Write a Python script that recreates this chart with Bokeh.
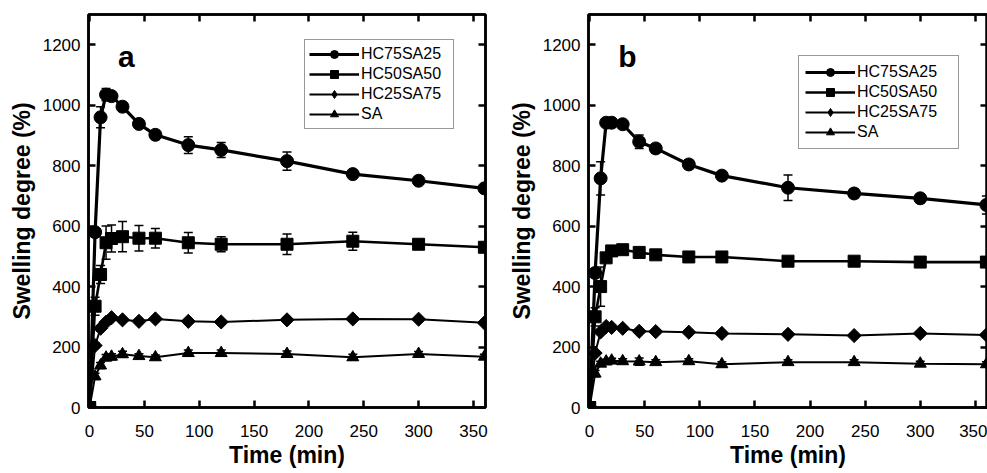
import math
from bokeh.plotting import figure
from bokeh.models import (Range1d, LinearAxis, FixedTicker, Whisker, TeeHead,
                          ColumnDataSource, Legend, LegendItem, Label)
from bokeh.layouts import row
from bokeh.embed import file_html
from bokeh.resources import INLINE

# ---------------- data ----------------
time_min = [0, 5, 10, 15, 20, 30, 45, 60, 90, 120, 180, 240, 300, 360]
series_names = ["HC75SA25", "HC50SA50", "HC25SA75", "SA"]

# panel a
a_hc75 = [0, 580, 960, 1035, 1030, 995, 938, 902, 868, 852, 815, 772, 750, 725]
a_hc75_err = [0, 15, 35, 20, 10, 10, 10, 10, 28, 25, 30, 8, 8, 8]
a_hc50 = [0, 335, 440, 545, 559, 565, 560, 560, 545, 540, 540, 550, 540, 530]
a_hc50_err = [0, 30, 30, 55, 45, 50, 42, 32, 34, 25, 34, 30, 12, 10]
a_hc25 = [0, 205, 262, 282, 297, 290, 285, 293, 285, 283, 290, 293, 292, 280]
a_hc25_err = [0, 8, 8, 6, 6, 6, 6, 6, 6, 6, 6, 6, 6, 6]
a_sa = [0, 103, 139, 165, 168, 176, 170, 166, 180, 180, 177, 166, 177, 168]
a_sa_err = [0, 10, 10, 10, 10, 10, 8, 8, 10, 10, 10, 10, 8, 8]

# panel b
b_hc75 = [0, 445, 758, 942, 942, 937, 879, 857, 804, 767, 727, 708, 692, 670]
b_hc75_err = [0, 15, 55, 10, 8, 8, 22, 15, 15, 12, 42, 15, 15, 30]
b_hc50 = [0, 300, 400, 495, 518, 522, 513, 505, 498, 498, 484, 484, 481, 481]
b_hc50_err = [0, 30, 65, 15, 10, 10, 10, 10, 10, 10, 10, 10, 10, 10]
b_hc25 = [0, 180, 250, 268, 265, 262, 252, 251, 249, 245, 242, 238, 245, 240]
b_hc25_err = [0, 8, 8, 6, 6, 6, 6, 6, 6, 6, 6, 6, 6, 6]
b_sa = [0, 112, 145, 152, 155, 153, 152, 150, 153, 143, 150, 150, 145, 143]
b_sa_err = [0, 10, 8, 8, 8, 8, 12, 8, 8, 8, 8, 8, 8, 8]

x_ticks = [0, 50, 100, 150, 200, 250, 300, 350]
y_ticks = [0, 200, 400, 600, 800, 1000, 1200]
x_label = "Time (min)"
y_label = "Swelling degree (%)"

# ---------------- style ----------------
FONT = "Liberation Sans"
MARKERS = ["circle", "square", "square", "triangle"]
LEG_MARKERS = ["circle", "square", "diamond", "triangle"]
MSIZES = [13, 12, 10, 12]
MANGLES = [0, 0, math.pi / 4, 0]
LWIDTHS = [3.2, 2.6, 2.0, 2.0]


def style_axis(ax, ticks):
    ax.ticker = FixedTicker(ticks=ticks)
    ax.axis_line_width = 2.5
    ax.axis_line_color = "black"
    ax.major_tick_in = 7
    ax.major_tick_out = 0
    ax.major_tick_line_width = 2.5
    ax.major_tick_line_color = "black"
    ax.minor_tick_in = 0
    ax.minor_tick_out = 0
    ax.major_label_text_font = FONT
    ax.major_label_text_font_size = "17px"
    ax.major_label_text_color = "black"


def make_panel(letter, vals, errs, width, mbl, mbr, leg_x, leg_y, leg_lw, leg_pad):
    p = figure(width=width, height=473, output_backend="svg", toolbar_location=None,
               x_range=Range1d(-1, 361), y_range=Range1d(0, 1300),
               min_border_left=mbl, min_border_right=mbr,
               min_border_top=14, min_border_bottom=66)
    p.xgrid.visible = False
    p.ygrid.visible = False
    p.outline_line_color = "black"
    p.outline_line_width = 2.5
    p.background_fill_color = "white"
    p.border_fill_color = "white"

    bottom = p.below[0]
    left = p.left[0]
    top = LinearAxis()
    right = LinearAxis()
    p.add_layout(top, "above")
    p.add_layout(right, "right")

    style_axis(bottom, x_ticks)
    style_axis(top, x_ticks)
    style_axis(left, y_ticks)
    style_axis(right, y_ticks)
    top.major_label_overrides = {t: "" for t in x_ticks}
    right.major_label_overrides = {t: "" for t in y_ticks}
    top.major_label_standoff = 0
    right.major_label_standoff = 0

    bottom.major_label_standoff = 17
    left.major_label_standoff = 8
    bottom.axis_label = x_label
    left.axis_label = y_label
    for ax, so in ((bottom, 2), (left, 5)):
        ax.axis_label_text_font = FONT
        ax.axis_label_text_font_size = "23px"
        ax.axis_label_text_font_style = "bold"
        ax.axis_label_text_color = "black"
        ax.axis_label_standoff = so

    items = []
    for i, name in enumerate(series_names):
        y = vals[i]
        e = errs[i]
        src = ColumnDataSource(dict(x=time_min, y=y,
                                    upper=[a + b for a, b in zip(y, e)],
                                    lower=[a - b for a, b in zip(y, e)]))
        w = Whisker(source=src, base="x", upper="upper", lower="lower",
                    line_width=1.5, line_color="black",
                    upper_head=TeeHead(size=9, line_width=1.5, line_color="black"),
                    lower_head=TeeHead(size=9, line_width=1.5, line_color="black"))
        p.add_layout(w)
        lr = p.line("x", "y", source=src, line_width=LWIDTHS[i], line_color="black")
        # legend marker renderer: uses only the series' first (origin) point,
        # which is hidden under the markers at the corner of the frame
        lsrc = ColumnDataSource(dict(x=time_min[:1], y=y[:1]))
        lm = p.scatter("x", "y", source=lsrc, marker=LEG_MARKERS[i], size=12,
                       fill_color="black", line_color="black")
        p.scatter("x", "y", source=src, marker=MARKERS[i], size=MSIZES[i],
                  angle=MANGLES[i], fill_color="black", line_color="black")
        items.append(LegendItem(label=name, renderers=[lr, lm]))

    leg = Legend(items=items, location=(leg_x, leg_y), glyph_width=50,
                 glyph_height=20, label_height=20, spacing=0, padding=leg_pad,
                 label_standoff=2, label_width=leg_lw, margin=0,
                 border_line_color="#333333", border_line_width=1.5,
                 label_text_font=FONT, label_text_font_size="16px",
                 label_text_color="black", background_fill_color="white",
                 background_fill_alpha=1.0)
    p.add_layout(leg)

    p.add_layout(Label(x=26, y=1160, text=letter, text_font=FONT,
                       text_font_size="30px", text_font_style="bold",
                       text_color="black", text_baseline="alphabetic"))
    return p


pa = make_panel("a", [a_hc75, a_hc50, a_hc25, a_sa],
                [a_hc75_err, a_hc50_err, a_hc25_err, a_sa_err],
                490, 88, 5, 216, 278, 88, 4)
pb = make_panel("b", [b_hc75, b_hc50, b_hc25, b_sa],
                [b_hc75_err, b_hc50_err, b_hc25_err, b_sa_err],
                497, 98, 0, 210, 258, 95, 6)

layout = row(pa, pb)
open("out.html", "w").write(file_html(layout, INLINE))
